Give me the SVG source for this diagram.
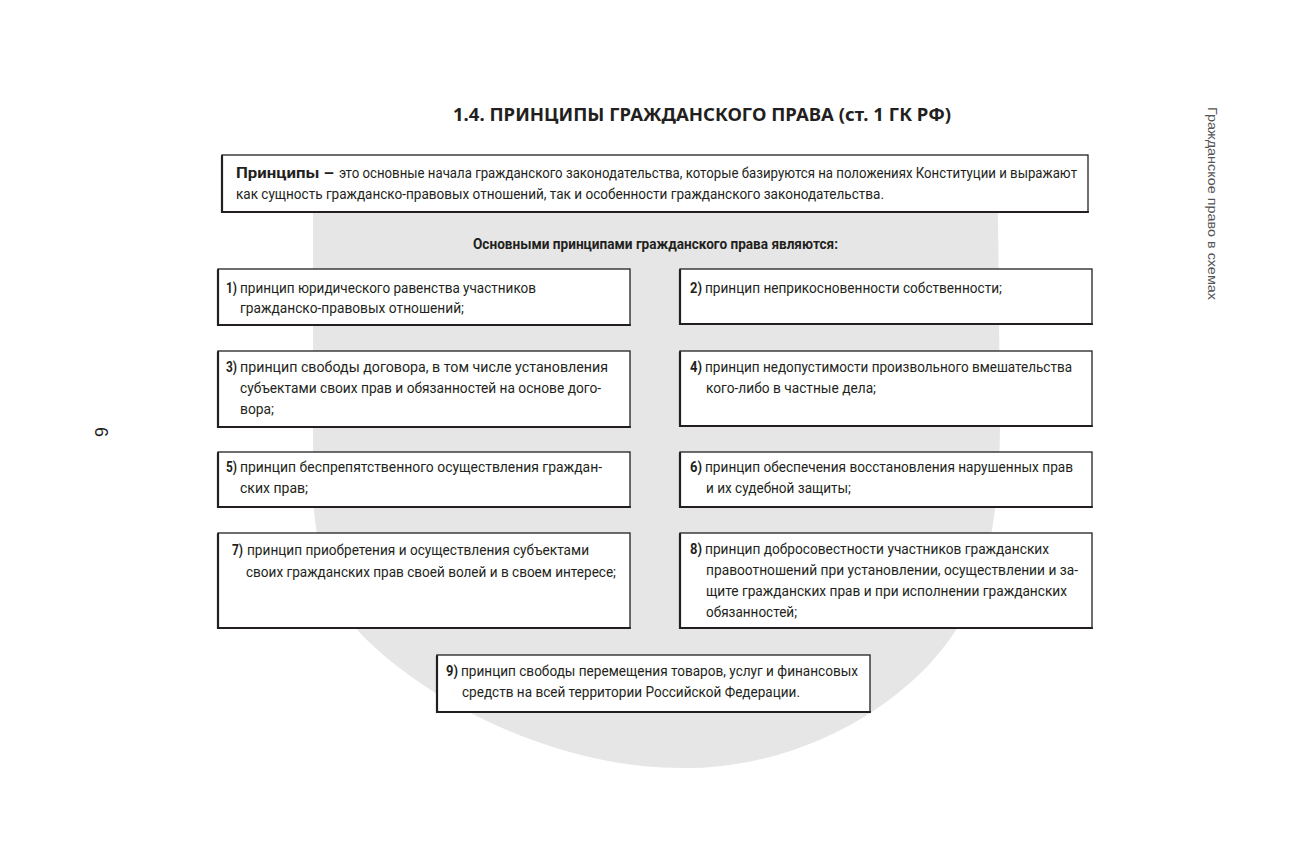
<svg xmlns="http://www.w3.org/2000/svg" width="1312" height="845" viewBox="0 0 1312 845">
<style>
.bg{fill:#e6e6e6}
.box{fill:#fff;stroke:#231f20;stroke-width:1.3}
.edge{fill:none;stroke:#231f20;stroke-width:2.2;stroke-linecap:round}
.t{font-family:"Roboto","Liberation Sans",sans-serif;font-size:15.5px;fill:#231f20}
.b{font-weight:bold}
.title{font-family:"Noto Sans","Open Sans",sans-serif;font-size:17px;font-weight:bold;fill:#231f20}
.side{font-family:"Liberation Sans","Roboto",sans-serif;font-size:13px;fill:#555}
</style>
<rect width="1312" height="845" fill="#fff"/>
<path class="bg" d="M313,213 L998,213 L1000,420 C1000,520 985,590 952,636 C905,705 800,770 680,768 C560,768 430,705 361,634 C330,600 318,560 313,500 Z"/>
<text class="title" x="453" y="121" textLength="498" lengthAdjust="spacingAndGlyphs">1.4. ПРИНЦИПЫ ГРАЖДАНСКОГО ПРАВА (ст. 1 ГК РФ)</text>
<text class="side" transform="translate(1208,107) rotate(90)" textLength="193" lengthAdjust="spacingAndGlyphs">Гражданское  право  в  схемах</text>
<text class="side" transform="translate(95,427) rotate(90)" style="font-size:18px;fill:#231f20">6</text>
<g id="def">
<rect class="box" x="222" y="155" width="866" height="57"/>
<path class="edge" d="M222,156 L222,212 L1088,212"/>
<text class="t b" x="236" y="178" textLength="98" lengthAdjust="spacingAndGlyphs">Принципы –</text>
<text class="t" x="339" y="178" textLength="738" lengthAdjust="spacingAndGlyphs">это основные начала гражданского законодательства, которые базируются на положениях Конституции и выражают</text>
<text class="t" x="236" y="199" textLength="648" lengthAdjust="spacingAndGlyphs">как сущность гражданско-правовых отношений, так и особенности гражданского законодательства.</text>
</g>
<text id="sub" class="t b" x="473" y="249" textLength="365" lengthAdjust="spacingAndGlyphs">Основными принципами гражданского права являются:</text>
<g id="n1">
<rect class="box" x="218" y="269" width="412" height="56"/>
<path class="edge" d="M218,270 L218,325 L630,325"/>
<text class="t b" x="226" y="293" textLength="11" lengthAdjust="spacingAndGlyphs">1)</text>
<text class="t" x="240" y="293" textLength="296" lengthAdjust="spacingAndGlyphs">принцип юридического равенства участников</text>
<text class="t" x="240" y="313" textLength="224" lengthAdjust="spacingAndGlyphs">гражданско-правовых отношений;</text>
</g>
<g id="n2">
<rect class="box" x="680" y="269" width="412" height="55"/>
<path class="edge" d="M680,270 L680,324 L1092,324"/>
<text class="t b" x="690" y="293" textLength="12" lengthAdjust="spacingAndGlyphs">2)</text>
<text class="t" x="705" y="293" textLength="297" lengthAdjust="spacingAndGlyphs">принцип неприкосновенности собственности;</text>
</g>
<g id="n3">
<rect class="box" x="218" y="351" width="412" height="76"/>
<path class="edge" d="M218,352 L218,427 L630,427"/>
<text class="t b" x="226" y="372" textLength="11" lengthAdjust="spacingAndGlyphs">3)</text>
<text class="t" x="240" y="372" textLength="368" lengthAdjust="spacingAndGlyphs">принцип свободы договора, в том числе установления</text>
<text class="t" x="240" y="393" textLength="361" lengthAdjust="spacingAndGlyphs">субъектами своих прав и обязанностей на основе дого-</text>
<text class="t" x="240" y="414" textLength="34" lengthAdjust="spacingAndGlyphs">вора;</text>
</g>
<g id="n4">
<rect class="box" x="680" y="351" width="412" height="75"/>
<path class="edge" d="M680,352 L680,426 L1092,426"/>
<text class="t b" x="690" y="372" textLength="12" lengthAdjust="spacingAndGlyphs">4)</text>
<text class="t" x="705" y="372" textLength="367" lengthAdjust="spacingAndGlyphs">принцип недопустимости произвольного вмешательства</text>
<text class="t" x="706" y="393" textLength="170" lengthAdjust="spacingAndGlyphs">кого-либо в частные дела;</text>
</g>
<g id="n5">
<rect class="box" x="218" y="452" width="412" height="55"/>
<path class="edge" d="M218,453 L218,507 L630,507"/>
<text class="t b" x="226" y="472" textLength="11" lengthAdjust="spacingAndGlyphs">5)</text>
<text class="t" x="240" y="472" textLength="362" lengthAdjust="spacingAndGlyphs">принцип беспрепятственного осуществления граждан-</text>
<text class="t" x="240" y="493" textLength="68" lengthAdjust="spacingAndGlyphs">ских прав;</text>
</g>
<g id="n6">
<rect class="box" x="680" y="452" width="412" height="55"/>
<path class="edge" d="M680,453 L680,507 L1092,507"/>
<text class="t b" x="690" y="472" textLength="12" lengthAdjust="spacingAndGlyphs">6)</text>
<text class="t" x="705" y="472" textLength="368" lengthAdjust="spacingAndGlyphs">принцип обеспечения восстановления нарушенных прав</text>
<text class="t" x="706" y="493" textLength="145" lengthAdjust="spacingAndGlyphs">и их судебной защиты;</text>
</g>
<g id="n7">
<rect class="box" x="218" y="533" width="412" height="95"/>
<path class="edge" d="M218,534 L218,628 L630,628"/>
<text class="t b" x="232" y="555" textLength="11" lengthAdjust="spacingAndGlyphs">7)</text>
<text class="t" x="247" y="555" textLength="342" lengthAdjust="spacingAndGlyphs">принцип приобретения и осуществления субъектами</text>
<text class="t" x="246" y="577" textLength="370" lengthAdjust="spacingAndGlyphs">своих гражданских прав своей волей и в своем интересе;</text>
</g>
<g id="n8">
<rect class="box" x="680" y="533" width="412" height="95"/>
<path class="edge" d="M680,534 L680,628 L1092,628"/>
<text class="t b" x="690" y="554" textLength="12" lengthAdjust="spacingAndGlyphs">8)</text>
<text class="t" x="705" y="554" textLength="344" lengthAdjust="spacingAndGlyphs">принцип добросовестности участников гражданских</text>
<text class="t" x="706" y="575" textLength="372" lengthAdjust="spacingAndGlyphs">правоотношений при установлении, осуществлении и за-</text>
<text class="t" x="706" y="596" textLength="361" lengthAdjust="spacingAndGlyphs">щите гражданских прав и при исполнении гражданских</text>
<text class="t" x="706" y="617" textLength="91" lengthAdjust="spacingAndGlyphs">обязанностей;</text>
</g>
<g id="n9">
<rect class="box" x="437" y="655" width="433" height="57"/>
<path class="edge" d="M437,656 L437,712 L870,712"/>
<text class="t b" x="446" y="676" textLength="12" lengthAdjust="spacingAndGlyphs">9)</text>
<text class="t" x="461" y="676" textLength="397" lengthAdjust="spacingAndGlyphs">принцип свободы перемещения товаров, услуг и финансовых</text>
<text class="t" x="462" y="697" textLength="338" lengthAdjust="spacingAndGlyphs">средств на всей территории Российской Федерации.</text>
</g>
<g id="connectors"></g>
</svg>
